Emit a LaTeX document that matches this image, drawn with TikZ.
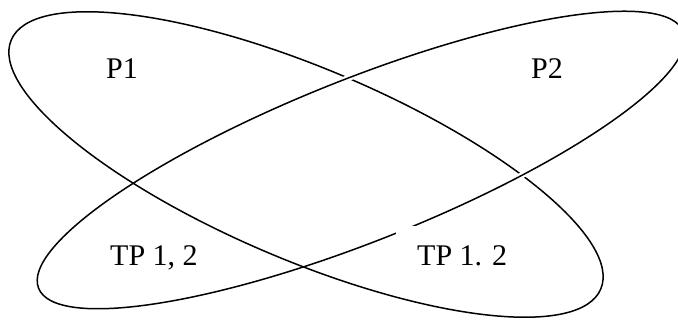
\documentclass[tikz,border=0pt]{standalone}
\usepackage{fontspec}
\setmainfont{Liberation Serif}
\begin{document}
\begin{tikzpicture}[x=1pt,y=1pt,
  loop/.style={line width=1.5pt},
  lbl/.style={font=\fontsize{30}{36}\selectfont, inner sep=0pt, anchor=base west}]
\useasboundingbox (0,0) rectangle (678,320);
\clip (0,0) rectangle (678,320);
% loop falling to the right (P1 / TP 1. 2)
\draw[loop, rotate around={-22.9:(306,155.5)}] (306,155.5) ellipse [x radius=320pt, y radius=96pt];
% white casing where the rising loop passes over the falling one
\begin{scope}
  \clip (330,0) rectangle (678,320);
  \draw[white, line width=6pt, rotate around={21.7:(361,160)}] (361,160) ellipse [x radius=347pt, y radius=81pt];
\end{scope}
% loop rising to the right (TP 1, 2 / P2)
\draw[loop, rotate around={21.7:(361,160)}] (361,160) ellipse [x radius=347pt, y radius=81pt];
% labels
\node[lbl] (p1) at (106,241) {P1};
\node[lbl] (p2) at (531,241) {P2};
\node[lbl] (tpl) at (110,54) {TP 1, 2};
\node[lbl, fill=white, inner xsep=21pt, text height=40pt, text depth=6pt] (tpr) at (396,54) {TP 1. 2};
\end{tikzpicture}
\end{document}
